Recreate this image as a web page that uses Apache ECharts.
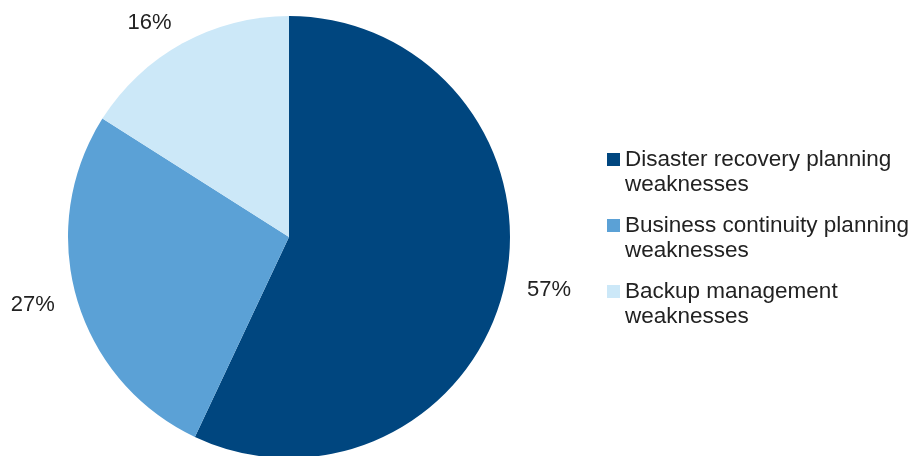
<!DOCTYPE html>
<html>
<head>
<meta charset="utf-8">
<script src="https://cdn.jsdelivr.net/npm/echarts@6/dist/echarts.min.js"></script>
<style>
  html, body { margin: 0; padding: 0; background: #fff; }
  #chart { width: 918px; height: 456px; }
</style>
</head>
<body>
<div id="chart"></div>
<script>
// categories and shares (%)
var categories = [
  'Disaster recovery planning\nweaknesses',
  'Business continuity planning\nweaknesses',
  'Backup management\nweaknesses'
];
var shares = [57, 27, 16];
var colors = ['#00467F', '#5BA1D6', '#CCE8F8'];

var font = '"Liberation Sans", Arial, sans-serif';

var chart = echarts.init(document.getElementById('chart'));
chart.setOption({
  backgroundColor: '#fff',
  animation: false,
  color: colors,
  legend: {
    orient: 'vertical',
    left: 607,
    top: 122,
    padding: 0,
    itemGap: -9,
    itemWidth: 13,
    itemHeight: 13,
    icon: 'rect',
    selectedMode: false,
    data: categories,
    // empty first line so the square sits level with the first text line
    formatter: function (name) { return '\n' + name; },
    textStyle: {
      fontFamily: font,
      fontSize: 22.5,
      lineHeight: 25,
      color: '#222'
    }
  },
  series: [{
    type: 'pie',
    center: [289, 237],
    radius: [0, 221],
    startAngle: 90,
    clockwise: true,
    silent: true,
    avoidLabelOverlap: false,
    label: {
      show: true,
      position: 'outside',
      formatter: '{c}%',
      fontFamily: font,
      fontSize: 22,
      color: '#222',
      distanceToLabelLine: 0
    },
    labelLine: { show: false, length: 23, length2: 0 },
    data: categories.map(function (name, i) {
      return { name: name, value: shares[i] };
    })
  }]
});
</script>
</body>
</html>
